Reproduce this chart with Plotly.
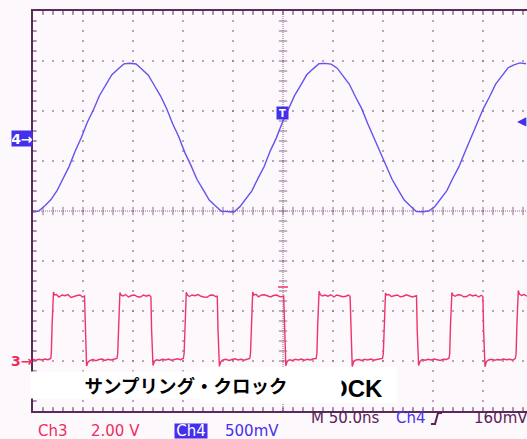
import numpy as np
import plotly.graph_objects as go

# ---------------- data ----------------
# Ch4 (500 mV/div) sampled trace, mV; sample interval in ns
ch4_t_start = -250.5
ch4_dt = 6.094
ch4_mv = [
    -752, -741, -690, -628, -540, -412, -296, -143, -8, 148, 272, 415, 518, 620, 678, 731,
    738, 730, 676, 618, 515, 412, 285, 133, 2, -156, -284, -425, -527, -631, -688, -742,
    -745, -752, -699, -618, -538, -414, -297, -141, -11, 146, 276, 414, 517, 622, 679, 732,
    736, 729, 688, 609, 527, 403, 286, 135, -2, -157, -285, -423, -529, -630, -689, -745,
    -748, -740, -697, -620, -536, -410, -294, -146, 4, 136, 287, 402, 528, 609, 690, 722,
    741, 733,
]

# Ch3 (2.00 V/div) trace: time (ns) and volts
ch3_t = [
    -250, -247, -244, -241, -238, -235, -232.3,
    -231.7, -230.9, -230.2, -229.5, -228.5, -226.5, -224, -221, -218, -215, -212, -209, -206, -203, -200.5, -198.5,
    -197.8, -197.2, -196.4, -195, -193, -190, -187, -184, -181, -178, -175, -172, -169, -166.1,
    -165.3, -164.5, -163.8, -163.1, -162, -160, -157.5, -154.5, -151.5, -148.5, -145.5, -142.5, -139.5, -136.5, -134, -132.1,
    -131.4, -130.8, -130, -128.6, -126.5, -123.5, -120.5, -117.5, -114.5, -111.5, -108.5, -105.5, -102.5, -99.7,
    -98.9, -98.1, -97.4, -96.7, -95.6, -93.5, -91, -88, -85, -82, -79, -76, -73, -70, -67.5, -65.7,
    -65, -64.4, -63.6, -62.2, -60, -57, -54, -51, -48, -45, -42, -39, -36, -33.3,
    -32.5, -31.7, -31, -30.3, -29.2, -27, -24.5, -21.5, -18.5, -15.5, -12.5, -9.5, -6.5, -3.5, -1, 0.7,
    1.4, 2, 2.8, 4.2, 6.4, 9.4, 12.4, 15.4, 18.4, 21.4, 24.4, 27.4, 30.4, 33.1,
    33.9, 34.7, 35.4, 36.1, 37.2, 39.4, 41.9, 44.9, 47.9, 50.9, 53.9, 56.9, 59.9, 62.9, 65.4, 67.1,
    67.8, 68.4, 69.2, 70.6, 72.8, 75.8, 78.8, 81.8, 84.8, 87.8, 90.8, 93.8, 96.8, 99.5,
    100.3, 101.1, 101.8, 102.5, 103.6, 105.8, 108.3, 111.3, 114.3, 117.3, 120.3, 123.3, 126.3, 129.3, 131.8, 133.5,
    134.2, 134.8, 135.6, 137, 139.2, 142.2, 145.2, 148.2, 151.2, 154.2, 157.2, 160.2, 163.2, 165.9,
    166.7, 167.5, 168.2, 168.9, 170, 172.2, 174.7, 177.7, 180.7, 183.7, 186.7, 189.7, 192.7, 195.7, 198.2, 199.9,
    200.6, 201.2, 202, 203.4, 205.6, 208.6, 211.6, 214.6, 217.6, 220.6, 223.6, 226.6, 229.6, 232.3,
    233.1, 233.9, 234.6, 235.3, 236.4, 238.6, 241.1, 244,
]
ch3_v = [
    0.02, -0.01, 0.03, 0.0, 0.04, 0.01, 0.06,
    0.25, 1.4, 2.5, 2.72, 2.6, 2.62, 2.52, 2.6, 2.57, 2.62, 2.5, 2.55, 2.58, 2.6, 2.52, 2.56,
    1.2, -0.1, -0.24, -0.08, -0.02, 0.02, -0.03, 0.02, 0.04, -0.02, 0.03, 0.0, 0.04, 0.06,
    0.25, 1.4, 2.5, 2.7, 2.6, 2.56, 2.62, 2.52, 2.58, 2.6, 2.53, 2.52, 2.6, 2.55, 2.6, 2.53,
    1.2, -0.1, -0.22, -0.06, 0.01, -0.02, 0.03, 0.0, 0.04, -0.01, 0.02, 0.05, 0.01, 0.06,
    0.25, 1.4, 2.5, 2.71, 2.6, 2.54, 2.6, 2.57, 2.62, 2.55, 2.52, 2.51, 2.59, 2.6, 2.54, 2.55,
    1.2, -0.1, -0.25, -0.07, 0.0, 0.03, -0.02, 0.02, 0.05, 0.0, 0.03, -0.01, 0.04, 0.06,
    0.25, 1.4, 2.5, 2.72, 2.6, 2.63, 2.53, 2.6, 2.61, 2.55, 2.52, 2.58, 2.6, 2.54, 2.53, 2.56,
    1.2, -0.1, -0.23, -0.06, 0.01, -0.02, 0.03, 0.0, 0.04, -0.01, 0.03, 0.0, 0.05, 0.06,
    0.25, 1.4, 2.5, 2.75, 2.62, 2.56, 2.6, 2.55, 2.61, 2.52, 2.6, 2.57, 2.53, 2.55, 2.6, 2.54,
    1.2, -0.1, -0.26, -0.08, 0.0, 0.02, -0.02, 0.03, 0.0, 0.04, -0.01, 0.02, 0.03, 0.06,
    0.25, 1.4, 2.5, 2.68, 2.6, 2.62, 2.54, 2.57, 2.6, 2.53, 2.55, 2.61, 2.58, 2.52, 2.55, 2.57,
    1.2, -0.1, -0.22, -0.06, 0.02, -0.01, 0.03, 0.0, 0.04, 0.01, -0.02, 0.03, 0.02, 0.06,
    0.25, 1.4, 2.5, 2.7, 2.6, 2.55, 2.61, 2.6, 2.53, 2.54, 2.62, 2.56, 2.6, 2.52, 2.59, 2.54,
    1.2, -0.1, -0.27, -0.07, 0.0, 0.03, -0.01, 0.02, 0.0, 0.04, 0.01, 0.03, 0.0, 0.06,
    0.25, 1.4, 2.5, 2.78, 2.64, 2.58, 2.62, 2.55,
]

# screen settings
time_per_div = 50        # ns
ch4_per_div = 500        # mV
ch3_per_div = 2.0        # V
ch4_ground_div = 1.48    # divisions above screen centre
ch3_ground_div = -2.98
x_range = [-250, 244]

# ---------------- styling ----------------
W, H = 527, 439
ML, MT, MB, MR = 33, 11, 28, 0
BG = "#FCF8FC"
GRID = "#8E6E8E"
BORDER = "#5A2A5A"
BLUE_TR = "#6652EE"
RED_TR = "#F0336A"
RED_TXT = "#EE2D5F"
BLUE_TXT = "#4632E8"
BLUE_BOX = "#4430EC"
DARK_TXT = "#5A1E5A"

pw, ph = W - ML - MR, H - MT - MB


def px(x):
    return (x - ML) / pw


def py(y):
    return (MT + ph - y) / ph


fig = go.Figure()

# ----- graticule (decoration) -----
gx_major = [v for v in range(-200, 201, 50) if v != 0]
gy_major = [-3, -2, -1, 1, 2, 3]
xs_fine = np.arange(-240, 245, 10)
ys_fine = np.round(np.arange(-3.8, 3.81, 0.2), 3)

hx = np.tile(xs_fine, len(gy_major))
hy = np.repeat(gy_major, len(xs_fine))
vx = np.repeat(gx_major, len(ys_fine))
vy = np.tile(ys_fine, len(gx_major))
fig.add_trace(go.Scatter(x=np.concatenate([hx, vx]), y=np.concatenate([hy, vy]),
                         mode="markers", hoverinfo="skip",
                         marker=dict(symbol="square", size=1.6, color=GRID, line=dict(width=0))))
# centre lines (dense)
fig.add_trace(go.Scatter(x=[-250, 244], y=[0, 0], mode="lines", hoverinfo="skip",
                         line=dict(color=GRID, width=1, dash="1px,1px")))
fig.add_trace(go.Scatter(x=[0, 0], y=[-4, 4], mode="lines", hoverinfo="skip",
                         line=dict(color=GRID, width=1, dash="1px,1px")))
# centre ticks
fig.add_trace(go.Scatter(x=xs_fine, y=np.zeros(len(xs_fine)), mode="markers", hoverinfo="skip",
                         marker=dict(symbol="line-ns", size=6, color=GRID, line=dict(width=1, color=GRID))))
fig.add_trace(go.Scatter(x=np.zeros(len(ys_fine)), y=ys_fine, mode="markers", hoverinfo="skip",
                         marker=dict(symbol="line-ew", size=6, color=GRID, line=dict(width=1, color=GRID))))
# border ticks
fig.add_trace(go.Scatter(x=np.full(len(ys_fine), -248.5), y=ys_fine, mode="markers", hoverinfo="skip",
                         marker=dict(symbol="line-ew", size=3, color=BORDER, line=dict(width=1, color=BORDER))))
fig.add_trace(go.Scatter(x=np.concatenate([xs_fine, xs_fine]),
                         y=np.concatenate([np.full(len(xs_fine), 3.965), np.full(len(xs_fine), -3.965)]),
                         mode="markers", hoverinfo="skip",
                         marker=dict(symbol="line-ns", size=3, color=BORDER, line=dict(width=1, color=BORDER))))

# ----- signal traces -----
ch4_t = ch4_t_start + ch4_dt * np.arange(len(ch4_mv))
fig.add_trace(go.Scatter(x=ch4_t, y=ch4_mv, yaxis="y2", mode="lines", name="Ch4",
                         line=dict(color=BLUE_TR, width=1.4)))
fig.add_trace(go.Scatter(x=ch3_t, y=ch3_v, yaxis="y3", mode="lines", name="Ch3",
                         line=dict(color=RED_TR, width=1.4)))

ch4_range = [(-4 - ch4_ground_div) * ch4_per_div, (4 - ch4_ground_div) * ch4_per_div]
ch3_range = [(-4 - ch3_ground_div) * ch3_per_div, (4 - ch3_ground_div) * ch3_per_div]

fig.update_layout(
    width=W, height=H, margin=dict(l=ML, r=MR, t=MT, b=MB),
    paper_bgcolor=BG, plot_bgcolor=BG, showlegend=False,
    xaxis=dict(range=x_range, showgrid=False, zeroline=False, showticklabels=False, ticks="",
               showline=True, mirror=True, linecolor=BORDER, linewidth=1.5, fixedrange=True),
    yaxis=dict(range=[-4, 4], showgrid=False, zeroline=False, showticklabels=False, ticks="",
               showline=True, linecolor=BORDER, linewidth=1.5, fixedrange=True),
    yaxis2=dict(range=ch4_range, overlaying="y", visible=False, fixedrange=True),
    yaxis3=dict(range=ch3_range, overlaying="y", visible=False, fixedrange=True),
)

# white label box (original English label)
fig.add_shape(type="rect", xref="paper", yref="paper", x0=px(200), x1=px(397), y0=py(403), y1=py(367),
              fillcolor="white", line=dict(width=0), layer="above")
# small red cursor mark on Ch3
fig.add_shape(type="line", xref="paper", yref="paper", x0=px(278), x1=px(288), y0=py(287), y1=py(287),
              line=dict(color=RED_TR, width=1.5), layer="above")
# trigger slope icon
fig.add_shape(type="path", xref="paper", yref="paper",
              path=f"M {px(431)} {py(424)} L {px(435)} {py(424)} L {px(438)} {py(413)} L {px(442)} {py(413)}",
              line=dict(color=DARK_TXT, width=2), layer="above")

anns = []


def ann(text, x, y, color, size=15, xanchor="left", family="DejaVu Sans", **kw):
    anns.append(dict(text=text, x=px(x), y=py(y), xref="paper", yref="paper", xanchor=xanchor,
                     yanchor="middle", showarrow=False, font=dict(family=family, size=size, color=color),
                     borderpad=0, **kw))


# English label remnant, then Japanese label box covering it
ann("<b>CLOCK</b>", 384, 388, "black", size=24, xanchor="right",
    family="Liberation Sans Narrow, Arial Narrow, Liberation Sans")
ann("<b>サンプリング・クロック</b>", 186, 385, "black", size=18.5, xanchor="center",
    family="Noto Sans CJK JP", bgcolor="white", width=310, height=26)

# channel markers
ann("<b>4→</b>", 22, 138, "white", size=14, xanchor="center", bgcolor=BLUE_BOX, width=20, height=15)
ann("<b>3→</b>", 22, 361, RED_TXT, size=14, xanchor="center")
ann("<b>T</b>", 282.5, 113, "white", size=10, xanchor="center", bgcolor=BLUE_BOX, width=11, height=12)
ann("◀", 528, 121, BLUE_BOX, size=12, xanchor="right")

# readouts
ann("Ch3", 37, 431, RED_TXT)
ann("2.00 V", 90, 431, RED_TXT)
ann("Ch4", 191, 431, "white", xanchor="center", bgcolor=BLUE_BOX, width=32, height=14)
ann("500mV", 224, 431, BLUE_TXT)
ann("M 50.0ns", 310, 418, DARK_TXT)
ann("Ch4", 395, 418, BLUE_TXT)
ann("160mV", 473, 418, DARK_TXT)

fig.update_layout(annotations=anns)
fig.write_html("out.html", config={"displayModeBar": False},
               post_script="document.body.style.margin='0';document.body.style.overflow='hidden';")
